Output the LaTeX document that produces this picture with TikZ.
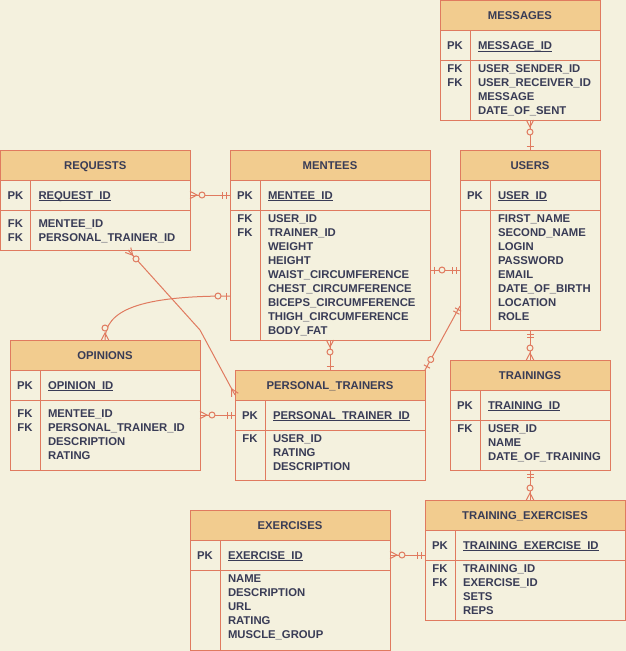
\documentclass[tikz,border=0pt]{standalone}
\usepackage{fontspec}
\setmainfont{Liberation Sans}
\usetikzlibrary{calc}
\definecolor{bg}{HTML}{F4F1DE}
\definecolor{hd}{HTML}{F2CC8F}
\definecolor{st}{HTML}{E07A5F}
\definecolor{tx}{HTML}{393C56}
\tikzset{
  erfont/.style={font=\fontsize{11.3}{14}\selectfont\bfseries, text=tx},
  txt/.style={erfont, inner sep=0pt, outer sep=0pt, text height=8.1pt, text depth=0pt},
  tbox/.style={draw=st, line width=1pt, fill=bg, inner sep=0pt, outer sep=0pt, anchor=north west},
  thead/.style={tbox, fill=hd, erfont, text height=8.1pt, text depth=0pt},
  trow/.style={draw=st, line width=1pt, inner sep=0pt, outer sep=0pt, anchor=north west},
  conn/.style={draw=st, line width=1pt},
}
% name, x, y, w, h, body h, title, pk field
\newcommand\ertable[8]{%
  \node[tbox, minimum width=#4, minimum height=#5] (#1) at (#2,#3) {};
  \node[thead, minimum width=#4, minimum height=30] (#1-h) at (#2,#3) {#7};
  \node[trow, minimum width=#4, minimum height=30] (#1-pk) at (#1-h.south west) {};
  \node[trow, minimum width=#4, minimum height=#6] (#1-b) at (#1-pk.south west) {};
  \draw[conn] ($(#1-h.south west)+(30,0)$) -- ($(#1.south west)+(30,0)$);
  \node[txt] (#1-pkl) at ($(#1-pk.west)+(15,0)$) {PK};
  \node[txt, anchor=west] (#1-pkf) at ($(#1-pk.west)+(38,0)$) {#8};
  \draw[tx, line width=0.9pt] ($(#1-pkf.south west)+(0,1.8)$) -- ($(#1-pkf.south east)+(0,1.8)$);
}
\newcommand\erfields[3]{%
  \foreach \fname [count=\i from 0] in {#3} {%
    \node[txt, anchor=west] (#1-f\i) at ($(#1-b.north west)+(38,#2+14*\i)$) {\fname};
  }%
}
\newcommand\erfk[3]{%
  \foreach \i in {1,...,#3} {%
    \node[txt] (#1-fk\i) at ($(#1-b.north west)+(15,#2+14*\i-14)$) {FK};
  }%
}
\newcommand\erZM[2]{\begin{scope}[shift={#1},rotate=#2]
  \draw[conn] (0,3.7) -- (7,0) -- (0,-3.7);
  \draw[conn, fill=bg] (12,0) circle[radius=3];
\end{scope}}
\newcommand\erMany[2]{\begin{scope}[shift={#1},rotate=#2]
  \draw[conn] (0,3.7) -- (7,0) -- (0,-3.7);
\end{scope}}
\newcommand\erMO[2]{\begin{scope}[shift={#1},rotate=#2]
  \draw[conn] (4,-3.5) -- (4,3.5) (7.5,-3.5) -- (7.5,3.5);
\end{scope}}
\newcommand\erOne[2]{\begin{scope}[shift={#1},rotate=#2]
  \draw[conn] (4,-3.5) -- (4,3.5);
\end{scope}}
\newcommand\erZO[2]{\begin{scope}[shift={#1},rotate=#2]
  \draw[conn] (4,-3.5) -- (4,3.5);
  \draw[conn, fill=bg] (12,0) circle[radius=3];
\end{scope}}
\begin{document}
\begin{tikzpicture}[x=1pt, y=-1pt]
\fill[bg] (0,0) rectangle (626,651);
\useasboundingbox (0,0) rectangle (626,651);

\ertable{msg}{440}{0.5}{160}{119.5}{59.5}{MESSAGES}{MESSAGE\_ID}
\erfk{msg}{7.5}{2}
\erfields{msg}{7.5}{USER\_SENDER\_ID, USER\_RECEIVER\_ID, MESSAGE, DATE\_OF\_SENT}

\ertable{req}{0.5}{150}{189.5}{100}{40}{REQUESTS}{REQUEST\_ID}
\erfk{req}{13}{2}
\erfields{req}{13}{MENTEE\_ID, PERSONAL\_TRAINER\_ID}

\ertable{mnt}{230}{150}{200}{190}{130}{MENTEES}{MENTEE\_ID}
\erfk{mnt}{8}{2}
\erfields{mnt}{8}{USER\_ID, TRAINER\_ID, WEIGHT, HEIGHT, WAIST\_CIRCUMFERENCE, CHEST\_CIRCUMFERENCE, BICEPS\_CIRCUMFERENCE, THIGH\_CIRCUMFERENCE, BODY\_FAT}

\ertable{usr}{460}{150}{140}{180}{120}{USERS}{USER\_ID}
\erfields{usr}{8}{FIRST\_NAME, SECOND\_NAME, LOGIN, PASSWORD, EMAIL, DATE\_OF\_BIRTH, LOCATION, ROLE}

\ertable{opn}{10}{340}{190}{130}{70}{OPINIONS}{OPINION\_ID}
\erfk{opn}{13}{2}
\erfields{opn}{13}{MENTEE\_ID, PERSONAL\_TRAINER\_ID, DESCRIPTION, RATING}

\ertable{pt}{235}{370}{190}{110}{50}{PERSONAL\_TRAINERS}{PERSONAL\_TRAINER\_ID}
\erfk{pt}{8.7}{1}
\erfields{pt}{8.7}{USER\_ID, RATING, DESCRIPTION}

\ertable{trn}{450}{360}{160}{110}{50}{TRAININGS}{TRAINING\_ID}
\erfk{trn}{8.7}{1}
\erfields{trn}{8.7}{USER\_ID, NAME, DATE\_OF\_TRAINING}

\ertable{te}{425}{500}{200}{120}{60}{TRAINING\_EXERCISES}{TRAINING\_EXERCISE\_ID}
\erfk{te}{8.7}{2}
\erfields{te}{8.7}{TRAINING\_ID, EXERCISE\_ID, SETS, REPS}

\ertable{ex}{190}{510}{200}{140}{80}{EXERCISES}{EXERCISE\_ID}
\erfields{ex}{8.7}{NAME, DESCRIPTION, URL, RATING, MUSCLE\_GROUP}

% connector end points
\coordinate (s1) at (usr.north |- msg.south);
\coordinate (s3) at ($(req.south west)+(127.5,0)$);
\coordinate (w3) at (200,330);
\coordinate (e3) at ($(pt-h.south west)+(0,-5)$);
\coordinate (e4) at ($(mnt.north west)+(0,146)$);
\coordinate (s5) at (pt-pk.west -| opn.east);
\coordinate (e7) at (usr-b.west -| mnt.east);
\coordinate (s8) at ($(usr.north west)+(0,156)$);
\coordinate (e10) at (trn.south |- te.north);
\coordinate (e11) at (ex-pk.east -| te.west);

\draw[conn] (s1) -- (usr.north);
\draw[conn] (req-pk.east) -- (mnt-pk.west);
\draw[conn] (s3) -- (w3) -- (e3);
\draw[conn] (opn.north) .. controls +(0,-30) and +(-90,0) .. (e4);
\draw[conn] (s5) -- (pt-pk.west);
\draw[conn] (mnt.south) -- (pt.north);
\draw[conn] (usr-b.west) -- (e7);
\draw[conn] (s8) -- (pt.north east);
\draw[conn] (usr.south) -- (trn.north);
\draw[conn] (trn.south) -- (e10);
\draw[conn] (ex-pk.east) -- (e11);

\erZM{(s1)}{-90} \erOne{(usr.north)}{90}
\erZM{(req-pk.east)}{0} \erMO{(mnt-pk.west)}{180}
\erZM{(s3)}{-48} \erMany{(e3)}{118.3}
\erZM{(opn.north)}{90} \erZO{(e4)}{180}
\erZM{(s5)}{0} \erMO{(pt-pk.west)}{180}
\erZM{(mnt.south)}{-90} \erOne{(pt.north)}{90}
\erMO{(usr-b.west)}{180} \erZO{(e7)}{0}
\erMO{(s8)}{-118.7} \erZO{(pt.north east)}{61.3}
\erMO{(usr.south)}{-90} \erZM{(trn.north)}{90}
\erMO{(trn.south)}{-90} \erZM{(e10)}{90}
\erZM{(ex-pk.east)}{0} \erMO{(e11)}{180}
\end{tikzpicture}
\end{document}
